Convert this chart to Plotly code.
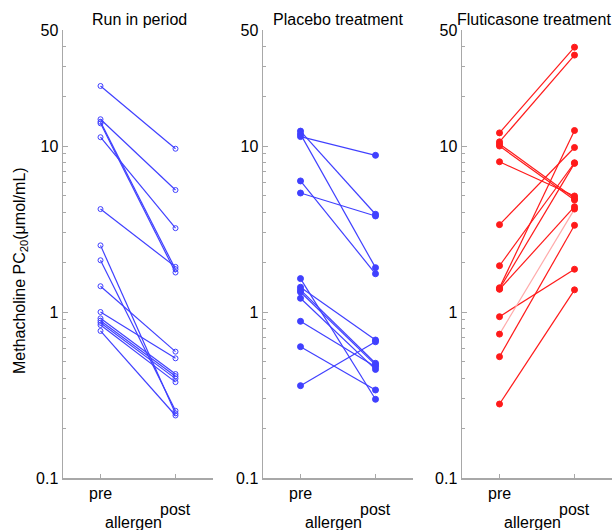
import plotly.graph_objects as go

# ---- data (PC20, umol/mL) ----
panel_titles = ["Run in period", "Placebo treatment", "Fluticasone treatment"]

runin_pre = [23.0, 14.5, 14.0, 13.7, 11.3, 4.17, 2.52, 2.05, 1.43, 1.0, 0.916, 0.887, 0.862, 0.835, 0.769]
runin_post = [9.63, 5.43, 1.81, 1.73, 3.2, 1.87, 0.245, 0.254, 0.577, 0.526, 0.423, 0.41, 0.397, 0.378, 0.238]

placebo_pre = [12.3, 11.8, 11.4, 6.16, 5.21, 1.59, 1.41, 1.36, 1.32, 1.21, 0.879, 0.618, 0.36]
placebo_post = [3.88, 1.85, 8.79, 1.70, 3.79, 0.298, 0.678, 0.491, 0.48, 0.451, 0.468, 0.339, 0.662]

flut_pre = [12.0, 10.6, 10.3, 10.0, 8.04, 3.36, 1.90, 1.40, 1.38, 1.37, 0.937, 0.736, 0.538, 0.279]
flut_post = [39.4, 35.3, 4.84, 4.73, 5.0, 9.8, 7.93, 12.4, 7.86, 4.31, 1.81, 4.17, 3.33, 1.36]
flut_faint = [False, False, False, False, False, False, False, False, False, False, False, True, False, False]

x_labels = ["pre", "post"]
x_pos = [1, 3]
y_major = [0.1, 1, 10, 50]
y_major_text = ["0.1", "1", "10", "50"]
y_minor = [0.2, 0.3, 0.4, 0.5, 0.6, 0.7, 0.8, 0.9, 2, 3, 4, 5, 6, 7, 8, 9, 20, 30, 40]

BLUE = "#4040ff"
RED = "#ff1a1a"
PINK = "#ffaaaa"
AX = "#a8a8a8"
FONT = "Liberation Sans, Arial, sans-serif"

W, H = 612, 530
panels_px = [(63, 213), (263, 413), (462, 612)]
title_cx = [139, 338, 534]
y_top_px, y_bot_px = 30, 478

fig = go.Figure()

series = [
    (runin_pre, runin_post, BLUE, "circle-open", 5, None),
    (placebo_pre, placebo_post, BLUE, "circle", 6, None),
    (flut_pre, flut_post, RED, "circle", 6, flut_faint),
]

for i, (pre, post, col, sym, msz, faint) in enumerate(series):
    xa = "x" if i == 0 else f"x{i+1}"
    ya = "y" if i == 0 else f"y{i+1}"
    for j, (a, b) in enumerate(zip(pre, post)):
        lc = PINK if (faint and faint[j]) else col
        fig.add_trace(go.Scatter(
            x=x_pos, y=[a, b], mode="lines",
            line=dict(color=lc, width=1.2),
            xaxis=xa, yaxis=ya, showlegend=False, hoverinfo="skip"))
    fig.add_trace(go.Scatter(
        x=[x_pos[0]] * len(pre) + [x_pos[1]] * len(post),
        y=list(pre) + list(post), mode="markers",
        marker=dict(symbol=sym, size=msz, color=col, line=dict(color=col, width=1)),
        xaxis=xa, yaxis=ya, showlegend=False))

layout = dict(
    template="none",
    width=W, height=H,
    margin=dict(l=0, r=0, t=0, b=0, pad=0, autoexpand=False),
    paper_bgcolor="white", plot_bgcolor="white",
    font=dict(family=FONT, size=16, color="black"),
    showlegend=False,
)

annotations = []
for i, (x0, x1) in enumerate(panels_px):
    sfx = "" if i == 0 else str(i + 1)
    layout["xaxis" + sfx] = dict(
        domain=[x0 / W, x1 / W], range=[0, 4], anchor="y" + sfx,
        showline=True, linecolor=AX, linewidth=1.5, automargin=False,
        tickvals=x_pos, showticklabels=False, ticks="inside", ticklen=4,
        tickcolor=AX, showgrid=False, zeroline=False, fixedrange=True)
    layout["yaxis" + sfx] = dict(
        domain=[(H - y_bot_px) / H, (H - y_top_px) / H],
        type="log", range=[-1, 1.69897], anchor="x" + sfx,
        showline=True, linecolor=AX, linewidth=1.5, automargin=False,
        tickvals=y_major, ticktext=y_major_text, ticks="inside", ticklen=5,
        tickcolor=AX, showgrid=False, zeroline=False,
        tickfont=dict(size=16, family=FONT),
        minor=dict(tickvals=y_minor, ticks="inside", ticklen=3, tickcolor=AX,
                   showgrid=False),
        fixedrange=True)
    annotations.append(dict(text=panel_titles[i], x=title_cx[i] / W, y=(H - 20) / H,
                            xref="paper", yref="paper", showarrow=False,
                            xanchor="center", yanchor="middle", font=dict(size=16)))
    xr = "x" if i == 0 else f"x{i+1}"
    annotations.append(dict(text=x_labels[0], x=x_pos[0], y=(H - 493) / H,
                            xref=xr, yref="paper", showarrow=False,
                            xanchor="center", yanchor="middle", font=dict(size=16)))
    annotations.append(dict(text=x_labels[1], x=x_pos[1], y=(H - 509) / H,
                            xref=xr, yref="paper", showarrow=False,
                            xanchor="center", yanchor="middle", font=dict(size=16)))
    annotations.append(dict(text="allergen", x=(x0 + 70) / W, y=(H - 522) / H,
                            xref="paper", yref="paper", showarrow=False,
                            xanchor="center", yanchor="middle", font=dict(size=16)))

annotations.append(dict(text="Methacholine PC<sub>20</sub>(\u03bcmol/mL)",
                        x=20 / W, y=(H - 271) / H, xref="paper", yref="paper",
                        showarrow=False, textangle=-90,
                        xanchor="center", yanchor="middle", font=dict(size=16)))
layout["annotations"] = annotations

fig.update_layout(**layout)
fig.write_html("out.html", config={"displayModeBar": False, "staticPlot": True},
               post_script="document.body.style.margin='0';document.body.style.overflow='hidden';")
